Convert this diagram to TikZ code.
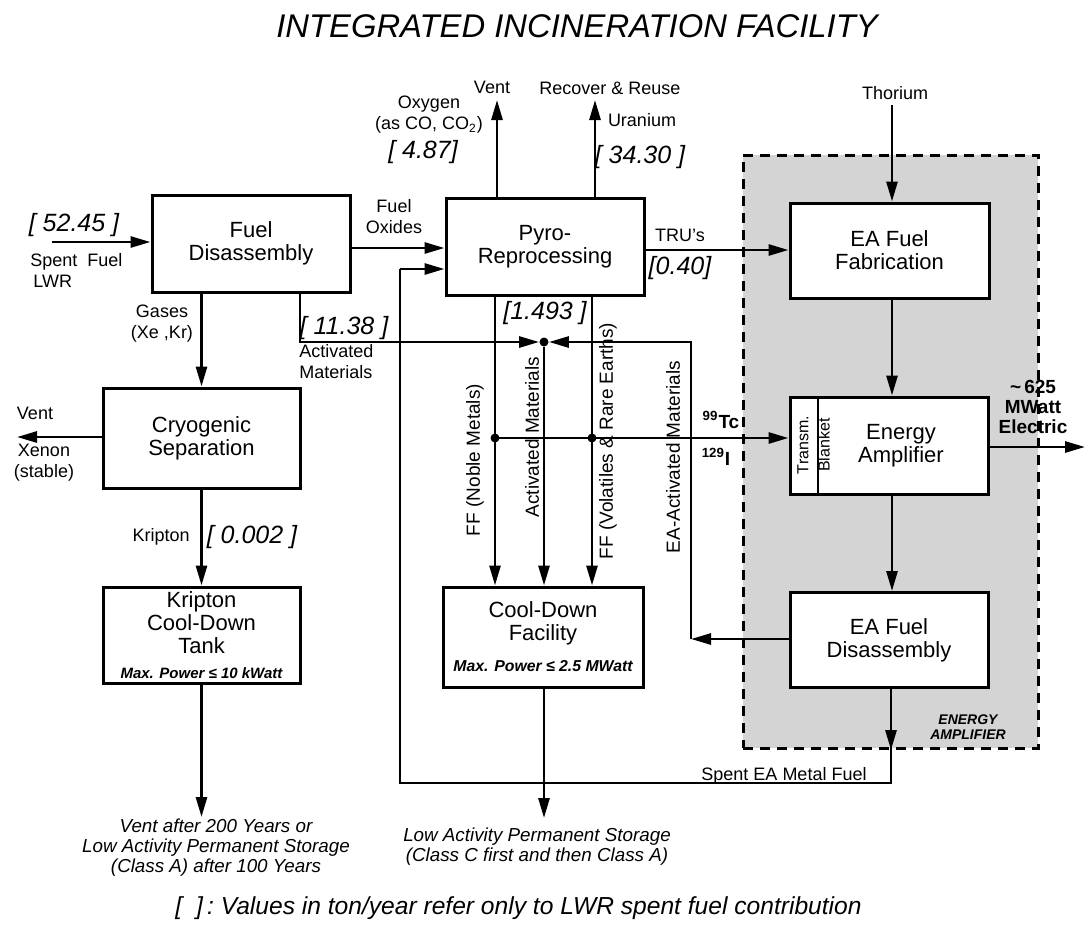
\documentclass[tikz,border=0pt]{standalone}
\usepackage{fontspec}
\setmainfont{Liberation Sans}
\usetikzlibrary{arrows.meta}
\newcommand\maxf{\fontsize{7.5}{9}\selectfont\bfseries\itshape}
\newcommand\maxg{\fontsize{7.9}{9}\selectfont\bfseries\itshape}
\begin{document}
\begin{tikzpicture}[x=0.5pt,y=-0.5pt,
  box/.style={draw,line width=1.5pt,fill=white,inner sep=0pt,align=center,font=\fontsize{11}{11.5}\selectfont},
  region/.style={draw,dash pattern=on 5pt off 3.5pt,line width=1.5pt,fill=black!17},
  arr/.style={line width=1.4pt,-{Triangle[length=10pt,width=5.5pt]}},
  ln/.style={line width=1.4pt},
  lbl/.style={font=\fontsize{9}{10.5}\selectfont,align=center,inner sep=0pt},
  rlbl/.style={font=\fontsize{9.5}{11}\selectfont,inner sep=0pt,rotate=90},
  val/.style={font=\fontsize{12.5}{14}\selectfont\itshape,inner sep=0pt},
  btxt/.style={font=\fontsize{9.4}{10}\selectfont\itshape,align=center,inner sep=0pt},
  blbl/.style={font=\fontsize{9.5}{10}\selectfont\bfseries,align=center,inner sep=0pt},
  dot/.style={circle,fill,inner sep=0pt,minimum size=4.5pt}]
\useasboundingbox (0,0) rectangle (1086,927);

% title
\node[font=\fontsize{16.4}{19}\selectfont\itshape,inner sep=0pt] (title) at (577,26) {INTEGRATED INCINERATION FACILITY};

% energy amplifier region
\node[region,minimum width=147.5pt,minimum height=296.5pt,inner sep=0pt] (eareg) at (890.5,451.5) {};
\node[font=\fontsize{7}{7.8}\selectfont\bfseries\itshape,align=center,inner sep=0pt] (eal) at (968,727) {ENERGY\\AMPLIFIER};

% boxes
\node[box,minimum width=99pt,minimum height=48.5pt] (fd) at (251,243.5) {Fuel\\Disassembly};
\node[box,minimum width=99pt,minimum height=48.5pt] (pyro) at (545,246.5) {Pyro-\\Reprocessing};
\node[box,minimum width=98.5pt,minimum height=50pt] (cryo) at (201.5,438) {Cryogenic\\Separation};
\node[box,minimum width=98.5pt,minimum height=48pt] (krip) at (201.5,635) {Kripton\\Cool-Down\\Tank\\[1pt]{\maxf Max. Power ≤ 10 kWatt}};
\node[box,minimum width=100pt,minimum height=50pt] (cool) at (543,637) {Cool-Down\\Facility\\[4pt]{\maxg Max. Power ≤ 2.5 MWatt}};
\node[box,minimum width=99.5pt,minimum height=47.5pt] (fab) at (889.5,250.5) {EA Fuel\\Fabrication};
\node[box,minimum width=99pt,minimum height=48.5pt] (ea) at (889,445.5) {};
\node[font=\fontsize{11}{11.5}\selectfont,align=center,inner sep=0pt] (eatext) at (901,446) {Energy\\Amplifier};
\coordinate (blt) at (818,397);
\coordinate (blb) at (818,494);
\draw[line width=1.2pt] (blt) -- (blb);
\node[font=\fontsize{8}{9}\selectfont,inner sep=0pt,rotate=90] (transm) at (803,445) {Transm.};
\node[font=\fontsize{8}{9}\selectfont,inner sep=0pt,rotate=90] (blanket) at (824,445) {Blanket};
\node[box,minimum width=99pt,minimum height=47.5pt] (eafd) at (889,640) {EA Fuel\\Disassembly};

% junction dots
\node[dot] (j1) at (544,342) {};
\node[dot] (j2) at (495,438) {};
\node[dot] (j3) at (592,438) {};

% coordinates
\coordinate (sfin) at (52,242);
\coordinate (am1) at (300,342);
\coordinate (eac) at (691,639);
\coordinate (eat) at (691,342);
\coordinate (ventp) at (497,100);
\coordinate (uran) at (595,100);
\coordinate (thin) at (892,105);
\coordinate (eout) at (1085,447);
\coordinate (xout) at (17,437);
\coordinate (kout) at (201.5,817);
\coordinate (cout) at (544,818);
\coordinate (se1) at (891,783);
\coordinate (se2) at (400,783);
\coordinate (se3) at (400,269);
\coordinate (sem) at (891,750);
\coordinate (ea1) at (892,0);

% connectors
\draw[arr] (sfin) -- (sfin -| fd.west);
\draw[arr] (fd.east |- 0,248) -- (pyro.west |- 0,248);
\draw[arr] (cryo.north |- fd.south) -- (cryo.north);
\draw[arr] (fd.south -| am1) -- (am1) -- (j1);
\draw[arr] (eafd.west |- eac) -- (eac);
\draw[arr] (eac) -- (eat) -- (j1);
\draw[arr] (j1) -- (j1 |- cool.north);
\draw[arr] (pyro.south -| j2) -- (j2 |- cool.north);
\draw[arr] (pyro.south -| j3) -- (j3 |- cool.north);
\draw[arr] (j2.center) -- (j2 -| ea.west);
\draw[arr] (pyro.north -| ventp) -- (ventp);
\draw[arr] (pyro.north -| uran) -- (uran);
\draw[arr] (pyro.east |- 0,250) -- (fab.west |- 0,250);
\draw[arr] (thin) -- (thin |- fab.north);
\draw[arr] (fab.south -| ea1) -- (ea.north -| ea1);
\draw[arr] (ea.south -| ea1) -- (eafd.north -| ea1);
\draw[arr] (ea.east |- eout) -- (eout);
\draw[arr] (cryo.west |- xout) -- (xout);
\draw[arr] (cryo.south) -- (krip.north);
\draw[arr] (krip.south) -- (kout);
\draw[arr] (cool.south -| cout) -- (cout);
\draw[ln] (eafd.south -| se1) -- (se1) -- (se2) -- (se3);
\draw[arr] (eafd.south -| se1) -- (sem);
\draw[arr] (se3) -- (se3 -| pyro.west);

% labels
\node[val] (v1) at (74,225) {[ 52.45 ]};
\node[lbl,align=left,anchor=west] (l1) at (30,270) {Spent~ Fuel\\\,LWR};
\node[lbl] (l2) at (394,217) {Fuel\\Oxides};
\node[lbl] (l3) at (162,324) {Gases\\(Xe ,Kr)};
\node[val] (v2) at (344,328) {[ 11.38 ]};
\node[lbl,align=left,anchor=west] (l4) at (299,362) {Activated\\Materials};
\node[lbl] (l5) at (35,413) {Vent};
\node[lbl] (l6) at (44,463) {Xenon\\(stable)};
\node[lbl,anchor=east] (l7) at (190,537) {Kripton};
\node[val] (v3) at (252,537) {[ 0.002 ]};
\node[lbl] (l8) at (429,115) {Oxygen\\(as CO, CO\textsubscript{2})};
\node[val] (v4) at (423,152) {[ 4.87]};
\node[lbl] (l9) at (492,87) {Vent};
\node[lbl] (l10) at (610,88) {Recover \& Reuse};
\node[lbl] (l11) at (642,120) {Uranium};
\node[val] (v5) at (640,157) {[ 34.30 ]};
\node[lbl] (l12) at (680,235) {TRU's};
\node[val] (v6) at (680,268) {[0.40]};
\node[val] (v7) at (545,313) {[1.493 ]};
\node[lbl] (l13) at (895,93) {Thorium};
\node[rlbl] (r1) at (475,460) {FF (Noble Metals)};
\node[rlbl] (r2) at (532,437) {Activated Materials};
\node[rlbl] (r3) at (608,441) {FF (Volatiles \& Rare Earths)};
\node[rlbl] (r4) at (673,457) {EA-Activated Materials};
\node[blbl] (tc) at (721,420) {\textsuperscript{99}Tc};
\node[blbl] (iod) at (716,457) {\textsuperscript{129}I};
\node[blbl] (pw) at (1033,407) {\textasciitilde\,625\\MWatt\\Electric};
\node[lbl] (l14) at (784,776) {Spent EA Metal Fuel};
\node[btxt] (b1) at (216,848) {Vent after 200 Years or\\Low Activity Permanent Storage\\(Class A) after 100 Years};
\node[btxt] (b2) at (537,847) {Low Activity Permanent Storage\\(Class C first and then Class A)};
\node[font=\fontsize{12.3}{14}\selectfont\itshape,inner sep=0pt,anchor=east] (foot) at (862,908) {[\hspace{7pt}]\,:\ Values in ton/year refer only to LWR spent fuel contribution};
\end{tikzpicture}
\end{document}
